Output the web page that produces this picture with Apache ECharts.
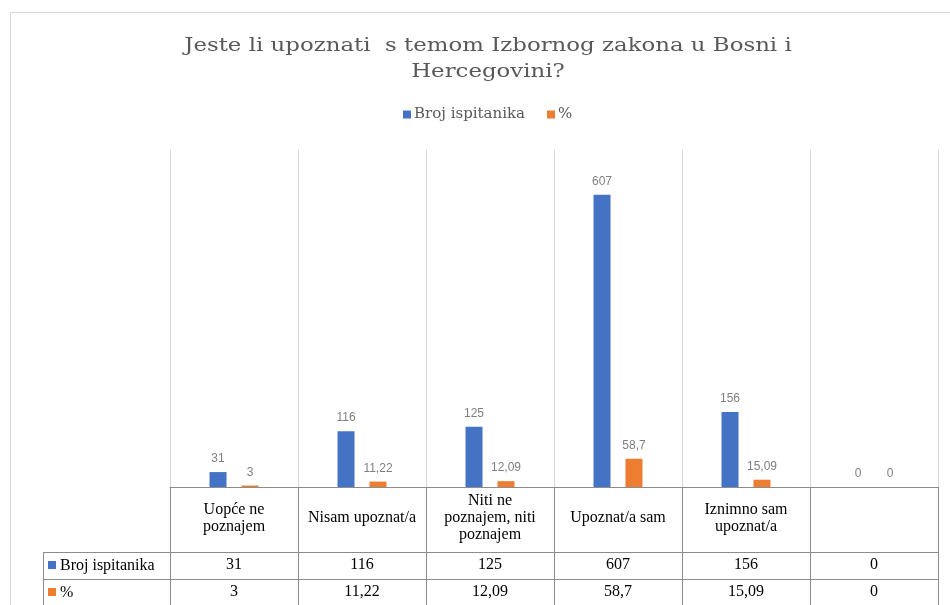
<!DOCTYPE html>
<html>
<head>
<meta charset="utf-8">
<script src="https://cdn.jsdelivr.net/npm/echarts@6/dist/echarts.min.js"></script>
<style>
  html, body { margin: 0; padding: 0; background: #fff; }
  #main { width: 950px; height: 605px; }
</style>
</head>
<body>
<div id="main"></div>
<script>
// kategorije i vrijednosti
const categories = ['Uopće ne\npoznajem', 'Nisam upoznat/a', 'Niti ne\npoznajem, niti\npoznajem', 'Upoznat/a sam', 'Iznimno sam\nupoznat/a', ''];
const brojIspitanika = [31, 116, 125, 607, 156, 0];
const postotak = [3, 11.22, 12.09, 58.7, 15.09, 0];
const seriesNames = ['Broj ispitanika', '%'];
const naslov = 'Jeste li upoznati  s temom Izbornog zakona u Bosni i\nHercegovini?';

const blue = '#4472c4';
const orange = '#ed7d31';
const lineColor = '#8c8c8c';
const serif = 'Liberation Serif';

// decimalni zarez
const fmt = (v) => String(v).replace('.', ',');

const myChart = echarts.init(document.getElementById('main'));

// tablica ispod grafa -> dodatne x osi
const tableAxis = (data, offset) => ({
  type: 'category',
  gridIndex: 0,
  position: 'bottom',
  offset: offset,
  data: data.map(fmt),
  axisLine: { show: true, lineStyle: { color: lineColor, width: 1 } },
  axisTick: { show: false },
  splitLine: { show: false },
  axisLabel: {
    margin: 13,
    verticalAlign: 'middle',
    color: '#000',
    fontFamily: serif,
    fontSize: 16,
  },
});

const barLabel = {
  show: true,
  position: 'top',
  distance: 7,
  color: '#7f7f7f',
  fontFamily: 'Liberation Sans',
  fontSize: 12,
  formatter: (p) => fmt(p.value),
};

myChart.setOption({
  animation: false,
  legend: {
    data: seriesNames,
    top: 102,
    left: 398,
    icon: 'rect',
    itemWidth: 8,
    itemHeight: 8,
    itemGap: 22,
    textStyle: { fontFamily: 'DejaVu Serif', fontSize: 15, color: '#595959', padding: [0, 0, 0, -2] },
  },
  grid: { left: 170, right: 12, top: 150, bottom: 118 },
  xAxis: [
    {
      type: 'category',
      data: categories,
      axisLine: { show: true, lineStyle: { color: lineColor, width: 1 } },
      axisTick: { show: true, length: 120, interval: 0, lineStyle: { color: lineColor } },
      splitLine: { show: true, interval: 0, lineStyle: { color: '#d9d9d9' } },
      axisLabel: {
        interval: 0,
        margin: 31,
        verticalAlign: 'middle',
        color: '#000',
        fontFamily: serif,
        fontSize: 16,
        lineHeight: 17,
      },
    },
    tableAxis(brojIspitanika, 65),
    tableAxis(postotak, 92),
  ],
  yAxis: { type: 'value', min: 0, max: 700, show: false },
  series: [
    {
      name: seriesNames[0],
      type: 'bar',
      data: brojIspitanika,
      barWidth: 17,
      barGap: '88%',
      itemStyle: { color: blue },
      label: barLabel,
    },
    {
      name: seriesNames[1],
      type: 'bar',
      data: postotak,
      barWidth: 17,
      itemStyle: { color: orange },
      label: barLabel,
    },
  ],
  graphic: [
    // okvir grafa
    { type: 'rect', shape: { x: 10.5, y: 12.5, width: 980, height: 640 }, style: { fill: 'none', stroke: '#d9d9d9', lineWidth: 1 }, silent: true },
    // naslov (razvučen kao u originalu)
    {
      type: 'text',
      x: 488,
      y: 33,
      scaleX: 1.27,
      style: {
        text: naslov,
        font: '18px "DejaVu Serif"',
        lineHeight: 26,
        fill: '#595959',
        align: 'center',
      },
    },
    // lijevi stupac tablice
    { type: 'line', shape: { x1: 43.5, y1: 552, x2: 43.5, y2: 610 }, style: { stroke: lineColor, lineWidth: 1 } },
    { type: 'line', shape: { x1: 43, y1: 552.5, x2: 170, y2: 552.5 }, style: { stroke: lineColor, lineWidth: 1 } },
    { type: 'line', shape: { x1: 43, y1: 579.5, x2: 170, y2: 579.5 }, style: { stroke: lineColor, lineWidth: 1 } },
    { type: 'rect', shape: { x: 48, y: 561, width: 8, height: 8 }, style: { fill: blue } },
    { type: 'text', x: 60, y: 566, style: { text: seriesNames[0], font: '16px "Liberation Serif"', fill: '#000', verticalAlign: 'middle' } },
    { type: 'rect', shape: { x: 48, y: 588, width: 8, height: 8 }, style: { fill: orange } },
    { type: 'text', x: 60, y: 593, style: { text: seriesNames[1], font: '16px "Liberation Serif"', fill: '#000', verticalAlign: 'middle' } },
  ],
});
</script>
</body>
</html>
